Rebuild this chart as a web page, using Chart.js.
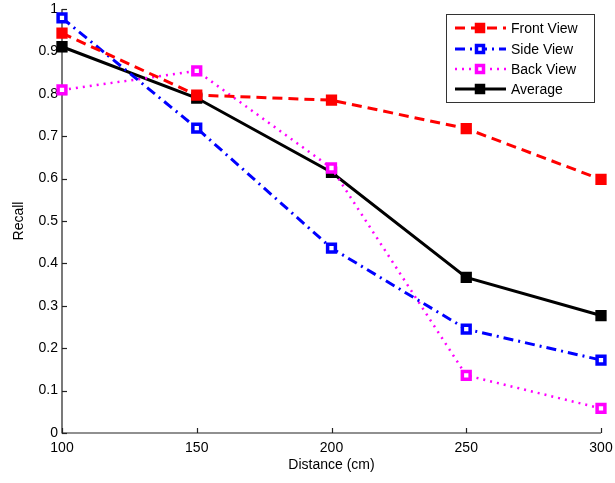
<!DOCTYPE html>
<html><head><meta charset="utf-8">
<script src="https://cdn.jsdelivr.net/npm/chart.js@4/dist/chart.umd.min.js"></script>
<style>html,body{margin:0;padding:0;background:#fff}#wrap{width:615px;height:483px}</style>
</head><body><div id="wrap"><canvas id="c" width="615" height="483"></canvas></div>
<script>
const distances = [100, 150, 200, 250, 300];
const frontView = [0.943, 0.797, 0.785, 0.718, 0.598];
const sideView = [0.979, 0.719, 0.436, 0.245, 0.172];
const backView = [0.809, 0.854, 0.625, 0.136, 0.058];
const average = [0.911, 0.790, 0.615, 0.367, 0.277];
const seriesLabels = ['Front View', 'Side View', 'Back View', 'Average'];
const xTicks = [100, 150, 200, 250, 300];
const yTicks = [0, 0.1, 0.2, 0.3, 0.4, 0.5, 0.6, 0.7, 0.8, 0.9, 1];

const FONT = '"Liberation Sans", Arial, sans-serif';
function pts(arr){ return distances.map((d,i)=>({x:d,y:arr[i]})); }

const styles = [
  {color:'#ff0000', dash:[10,6], width:3, fill:'#ff0000'},
  {color:'#0000ff', dash:[10,5,2,5], width:3, fill:'#ffffff'},
  {color:'#ff00ff', dash:[2,5], width:2.5, fill:'#ffffff'},
  {color:'#000000', dash:[], width:3, fill:'#000000'}
];
const dataArr = [frontView, sideView, backView, average];

const datasets = dataArr.map((arr,i)=>({
  label: seriesLabels[i],
  data: pts(arr),
  borderColor: styles[i].color,
  borderWidth: styles[i].width,
  borderDash: styles[i].dash,
  pointStyle: 'rect',
  pointRadius: 5.5,
  pointBorderWidth: 3.5,
  pointBorderColor: styles[i].color,
  pointBackgroundColor: styles[i].fill,
  tension: 0,
  fill: false,
  clip: false
}));

const inwardTicks = {
  id: 'inwardTicks',
  beforeDatasetsDraw(chart){
    const ctx = chart.ctx;
    const xs = chart.scales.x, ys = chart.scales.y;
    ctx.save();
    ctx.strokeStyle = '#222'; ctx.lineWidth = 1.2; ctx.setLineDash([]);
    ctx.beginPath();
    ctx.moveTo(xs.left, ys.top); ctx.lineTo(xs.left, ys.bottom); ctx.lineTo(xs.right, ys.bottom);
    ctx.stroke();
    xs.ticks.forEach(t=>{
      const px = Math.round(xs.getPixelForValue(t.value))+0.5;
      ctx.beginPath(); ctx.moveTo(px, ys.bottom); ctx.lineTo(px, ys.bottom-5); ctx.stroke();
    });
    ys.ticks.forEach(t=>{
      const py = Math.round(ys.getPixelForValue(t.value))+0.5;
      ctx.beginPath(); ctx.moveTo(xs.left, py); ctx.lineTo(xs.left+5, py); ctx.stroke();
    });
    ctx.restore();
  }
};

const legendBox = {
  id: 'legendBox',
  afterDraw(chart){
    const ctx = chart.ctx;
    const L = 446, T = 14, R = 594, B = 102;
    ctx.save();
    ctx.fillStyle = '#fff';
    ctx.fillRect(L, T, R-L, B-T);
    ctx.strokeStyle = '#333'; ctx.lineWidth = 1;
    ctx.strokeRect(L+0.5, T+0.5, R-L, B-T);
    const rows = [28, 49, 69, 89];
    chart.data.datasets.forEach((ds,i)=>{
      const y = rows[i];
      ctx.strokeStyle = ds.borderColor; ctx.lineWidth = ds.borderWidth;
      ctx.setLineDash(ds.borderDash);
      ctx.beginPath(); ctx.moveTo(455, y); ctx.lineTo(506, y); ctx.stroke();
      ctx.setLineDash([]);
      ctx.fillStyle = ds.pointBackgroundColor;
      ctx.fillRect(475, y-5, 10, 10);
      ctx.lineWidth = ds.pointBorderWidth;
      ctx.strokeRect(475+1.5, y-5+1.5, 7, 7);
      ctx.fillStyle = '#000';
      ctx.font = '14px ' + FONT;
      ctx.textBaseline = 'middle'; ctx.textAlign = 'left';
      ctx.fillText(ds.label, 511, y+1);
    });
    ctx.restore();
  }
};

new Chart(document.getElementById('c'), {
  type: 'line',
  data: { datasets },
  options: {
    responsive: false,
    animation: false,
    devicePixelRatio: 1,
    layout: { padding: { top: 5, right: 14, left: 0, bottom: 0 } },
    plugins: { legend: { display: false }, tooltip: { enabled: false } },
    scales: {
      x: {
        type: 'linear', min: 100, max: 300,
        afterBuildTicks: s => { s.ticks = xTicks.map(v=>({value:v})); },
        ticks: { color: '#000', font: { size: 14, family: FONT }, padding: 7, maxRotation: 0, autoSkip: false,
                 callback: v => String(v) },
        grid: { display: false, drawTicks: false },
        border: { display: false },
        title: { display: true, text: 'Distance (cm)', color: '#000', font: { size: 14, family: FONT }, padding: { top: 0, bottom: 9 } },
        afterFit: s => { s.height = 50; s.paddingLeft = 0; s.paddingRight = 0; }
      },
      y: {
        type: 'linear', min: 0, max: 1,
        afterBuildTicks: s => { s.ticks = yTicks.map(v=>({value:v})); },
        ticks: { color: '#000', font: { size: 14, family: FONT }, padding: 4, autoSkip: false,
                 callback: v => String(Math.round(v*10)/10) },
        grid: { display: false, drawTicks: false },
        border: { display: false },
        title: { display: true, text: 'Recall', color: '#000', font: { size: 14, family: FONT }, padding: { top: 11, bottom: 0 } },
        afterFit: s => { s.width = 62; s.paddingTop = 0; s.paddingBottom = 0; }
      }
    }
  },
  plugins: [inwardTicks, legendBox]
});
</script>
</body></html>
